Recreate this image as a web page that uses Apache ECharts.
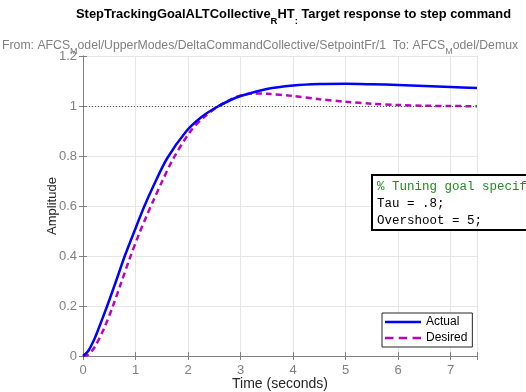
<!DOCTYPE html>
<html><head><meta charset="utf-8">
<script src="https://cdn.jsdelivr.net/npm/echarts@6/dist/echarts.min.js"></script>
<style>html,body{margin:0;padding:0;background:#fff}#c{width:526px;height:392px}</style>
</head><body><div id="c"></div>
<script>
const xTicks = [0,1,2,3,4,5,6,7];
const yTicks = [0,0.2,0.4,0.6,0.8,1,1.2];
const actualT = [0,0.1,0.2,0.27,0.46,0.63,0.795,0.98,1.15,1.34,1.6,1.97,2.25,2.5,2.8,3.0,3.5,4.0,4.5,5.0,5.5,6.0,6.5,7.0,7.5];
const actualY = [0,0.02,0.06,0.095,0.2,0.3,0.4,0.5,0.59,0.68,0.79,0.9,0.955,0.99,1.023,1.04,1.068,1.082,1.088,1.089,1.087,1.084,1.08,1.076,1.072];
const desiredT = [0,0.1,0.22,0.4,0.57,0.73,0.88,1.07,1.2,1.34,1.51,1.72,2.05,2.3,2.55,2.8,3.0,3.25,3.5,4.0,4.5,5.0,5.5,6.0,6.5,7.0,7.5];
const desiredY = [0,0.005,0.035,0.11,0.2,0.295,0.385,0.49,0.555,0.622,0.7,0.79,0.9,0.955,0.995,1.025,1.042,1.05,1.049,1.04,1.027,1.017,1.009,1.004,1.001,1.0,0.999];
const refLevel = 1;
const seriesNames = ['Actual','Desired'];
const codeLines = ['% Tuning goal specifications','Tau = .8;','Overshoot = 5;'];

const chart = echarts.init(document.getElementById('c'));
const axisGray = '#808080';
const gridStyle = {show:true, lineStyle:{color:'#e6e6e6', width:1}};
const ff = 'Liberation Sans, Arial, sans-serif';
chart.setOption({
  animation:false,
  textStyle:{fontFamily:ff},
  title:[{
    text:'{a|StepTrackingGoalALTCollective}{s|R}{a|HT}{s|:}{a| Target response to step command}',
    left:71, top:3,
    textStyle:{rich:{
      a:{fontFamily:ff,fontSize:12.9,fontWeight:'bold',color:'#000',lineHeight:18,verticalAlign:'top'},
      s:{fontFamily:ff,fontSize:9.5,fontWeight:'bold',color:'#000',lineHeight:18,verticalAlign:'top',padding:[8,0,0,0]}
    }}
  },{
    text:'{a|From: AFCS}{s|M}{a|odel/UpperModes/DeltaCommandCollective/SetpointFr/1  To: AFCS}{s|M}{a|odel/Demux}',
    left:-3, top:35,
    textStyle:{rich:{
      a:{fontFamily:ff,fontSize:12.25,fontWeight:'normal',color:'#808080',lineHeight:15,verticalAlign:'top'},
      s:{fontFamily:ff,fontSize:9,fontWeight:'normal',color:'#808080',lineHeight:15,verticalAlign:'top',padding:[7,0,0,0]}
    }}
  }],
  grid:{left:83,right:49,top:56,bottom:36,containLabel:false,outerBoundsMode:'none'},
  xAxis:[{
    type:'value',min:0,max:7.5,interval:1,
    name:'Time (seconds)',nameLocation:'middle',nameGap:21,nameMoveOverlap:false,
    nameTextStyle:{color:'#262626',fontSize:14},
    axisLine:{show:true,onZero:false,lineStyle:{color:axisGray}},
    axisTick:{show:true,inside:true,length:4,lineStyle:{color:axisGray}},
    axisLabel:{color:axisGray,fontSize:13,margin:8,
      formatter:v=>xTicks.includes(v)?String(v):''},
    splitLine:gridStyle
  },{
    type:'value',min:0,max:7.5,interval:1,position:'top',
    axisLine:{show:true,lineStyle:{color:axisGray}},
    axisTick:{show:true,inside:true,length:4,lineStyle:{color:axisGray}},
    axisLabel:{show:false},splitLine:{show:false}
  }],
  yAxis:[{
    type:'value',min:0,max:1.2,interval:0.2,
    name:'Amplitude',nameLocation:'middle',nameGap:24,nameMoveOverlap:false,
    nameTextStyle:{color:'#262626',fontSize:13},
    axisLine:{show:true,onZero:false,lineStyle:{color:axisGray}},
    axisTick:{show:true,inside:true,length:4,lineStyle:{color:axisGray}},
    axisLabel:{color:axisGray,fontSize:13,margin:6,
      formatter:v=>{const t=yTicks.find(k=>Math.abs(k-v)<1e-9);return t===undefined?'':String(+t.toFixed(1));}},
    splitLine:gridStyle
  },{
    type:'value',min:0,max:1.2,interval:0.2,position:'right',
    axisLine:{show:true,lineStyle:{color:axisGray}},
    axisTick:{show:true,inside:true,length:4,lineStyle:{color:axisGray}},
    axisLabel:{show:false},splitLine:{show:false}
  }],
  legend:{
    data:[
      {name:seriesNames[0],icon:'path://M0,0h36v1h-36z',itemStyle:{color:'#0000ff'}},
      {name:seriesNames[1],icon:'path://M0,0h8v1h-8z M13,0h8v1h-8z M26,0h8v1h-8z',itemStyle:{color:'#c000c0'}}
    ],
    orient:'vertical',left:382,top:313,
    itemWidth:36,itemHeight:2.5,itemGap:4,symbolKeepAspect:false,
    padding:[3,5,3,3],borderColor:'#262626',borderWidth:1,backgroundColor:'#fff',
    textStyle:{fontSize:12,color:'#000',fontFamily:ff,lineHeight:12}
  },
  series:[{
    name:seriesNames[0],type:'line',showSymbol:false,symbol:'none',smooth:0.3,
    data:actualT.map((t,i)=>[t,actualY[i]]),
    lineStyle:{color:'#0000ff',width:2.5},itemStyle:{color:'#0000ff'},
    markLine:{silent:true,symbol:'none',label:{show:false},
      lineStyle:{color:'#555',type:[1,2],width:1},
      data:[{yAxis:refLevel}]},
    z:3
  },{
    name:seriesNames[1],type:'line',showSymbol:false,symbol:'none',smooth:0.3,
    data:desiredT.map((t,i)=>[t,desiredY[i]]),
    lineStyle:{color:'#c000c0',width:2.5,type:[6,4]},itemStyle:{color:'#c000c0'},
    z:2
  }],
  graphic:[{
    type:'group',left:371,top:174,z:100,
    children:[{
      type:'rect',z:100,shape:{x:0,y:0,width:170,height:55},
      style:{fill:'#fff',stroke:'#000',lineWidth:2}
    },{
      type:'text',z:101,x:5,y:5,style:{text:codeLines[0],font:'12.5px "Liberation Mono", monospace',fill:'#228B22'}
    },{
      type:'text',z:101,x:5,y:22,style:{text:codeLines[1],font:'12.5px "Liberation Mono", monospace',fill:'#000'}
    },{
      type:'text',z:101,x:5,y:39,style:{text:codeLines[2],font:'12.5px "Liberation Mono", monospace',fill:'#000'}
    }]
  }]
});
</script></body></html>
